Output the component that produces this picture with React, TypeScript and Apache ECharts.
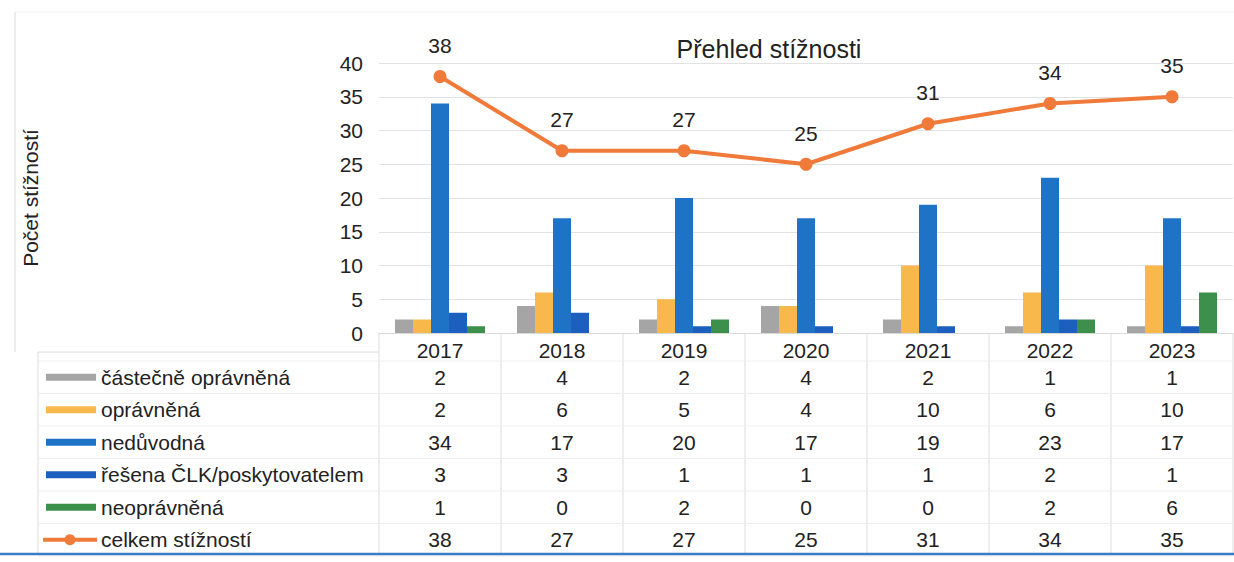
import React, { useEffect, useRef } from "react";
import * as echarts from "echarts";

const years = ["2017", "2018", "2019", "2020", "2021", "2022", "2023"];
const castecneOpravnena = [2, 4, 2, 4, 2, 1, 1];
const opravnena = [2, 6, 5, 4, 10, 6, 10];
const neduvodna = [34, 17, 20, 17, 19, 23, 17];
const resenaCLK = [3, 3, 1, 1, 1, 2, 1];
const neopravnena = [1, 0, 2, 0, 0, 2, 6];
const celkem = [38, 27, 27, 25, 31, 34, 35];

const barNames = [
  "částečně oprávněná",
  "oprávněná",
  "nedůvodná",
  "řešena ČLK/poskytovatelem",
  "neoprávněná",
];
const lineName = "celkem stížností";
const barData = [castecneOpravnena, opravnena, neduvodna, resenaCLK, neopravnena];
const barColors = ["#a5a5a5", "#f9b84b", "#1f73c6", "#1c5fbf", "#3d8f4c"];
const lineColor = "#f07a3a";

const FONT = "Liberation Sans, Arial, sans-serif";

export default function App() {
  const ref = useRef<HTMLDivElement>(null);
  useEffect(() => {
    document.body.style.margin = "0";
    const chart = echarts.init(ref.current!, null, { renderer: "svg" });
    const option: any = {
      animation: false,
      backgroundColor: "#ffffff",
      textStyle: { fontFamily: FONT },
      title: {
        text: "Přehled stížnosti",
        left: 764,
        top: 31,
        textAlign: "center",
        textStyle: { fontSize: 25, fontWeight: "normal", color: "#222", fontFamily: FONT },
      },
      grid: { left: 379, right: 1, top: 63, bottom: 229, containLabel: false },
      xAxis: {
        type: "category",
        data: years,
        axisLine: { show: true, lineStyle: { color: "#d9d9d9" } },
        axisTick: { show: false },
        axisLabel: { fontSize: 21, color: "#222", margin: 7, fontFamily: FONT },
      },
      yAxis: {
        type: "value",
        min: 0,
        max: 40,
        interval: 5,
        name: "Počet stížností",
        nameLocation: "middle",
        nameGap: 338,
        nameTextStyle: { fontSize: 21, color: "#222", fontFamily: FONT },
        axisLine: { show: false },
        axisTick: { show: false },
        axisLabel: { fontSize: 21, color: "#222", margin: 16, fontFamily: FONT },
        splitLine: { lineStyle: { color: "#e2e2e2", width: 1 } },
      },
      series: [
        ...barNames.map((name, i) => ({
          name,
          type: "bar",
          data: barData[i],
          barWidth: 18,
          barGap: "0%",
          itemStyle: { color: barColors[i] },
        })),
        {
          name: lineName,
          type: "line",
          data: celkem,
          z: 5,
          symbol: "circle",
          symbolSize: 13,
          lineStyle: { color: lineColor, width: 4 },
          itemStyle: { color: lineColor },
          label: {
            show: true,
            position: "top",
            distance: 14,
            fontSize: 21,
            color: "#222",
            fontFamily: FONT,
          },
        },
      ],
    };
    chart.setOption(option);

    const xs = years.map((y) => chart.convertToPixel({ xAxisIndex: 0 }, y) as number);
    const colW = xs.length > 1 ? xs[1] - xs[0] : 122;
    const tableLeft = xs[0] - colW / 2;
    const tableRight = xs[xs.length - 1] + colW / 2;
    const axisY = chart.convertToPixel({ yAxisIndex: 0 }, 0) as number;
    const rowTop = 361;
    const rowH = 32.5;
    const rowsBottom = 554;

    const els: any[] = [];
    els.push({ type: "line", shape: { x1: 15, y1: 12, x2: 15, y2: 352 }, style: { stroke: "#e6e6e6", lineWidth: 1.5 } });
    els.push({ type: "line", shape: { x1: 15, y1: 12, x2: 1234, y2: 12 }, style: { stroke: "#f0f0f0", lineWidth: 1 } });
    els.push({ type: "line", shape: { x1: 38, y1: 352, x2: tableLeft, y2: 352 }, style: { stroke: "#dcdcdc", lineWidth: 1 } });
    els.push({ type: "line", shape: { x1: 38, y1: 352, x2: 38, y2: rowsBottom }, style: { stroke: "#dcdcdc", lineWidth: 1 } });
    for (let k = 0; k <= years.length; k++) {
      const x = tableLeft + k * colW;
      els.push({ type: "line", shape: { x1: x, y1: axisY, x2: x, y2: rowsBottom }, style: { stroke: "#dcdcdc", lineWidth: 1 } });
    }
    const allNames = [...barNames, lineName];
    const allData = [...barData, celkem];
    for (let r = 0; r <= allNames.length; r++) {
      const y = rowTop + r * rowH;
      els.push({ type: "line", shape: { x1: 38, y1: y, x2: tableRight, y2: y }, style: { stroke: "#eeeeee", lineWidth: 1 } });
    }
    allNames.forEach((name, r) => {
      const cy = rowTop + r * rowH + rowH / 2;
      if (r < barNames.length) {
        els.push({ type: "rect", shape: { x: 46, y: cy - 3.5, width: 50, height: 7 }, style: { fill: barColors[r] } });
      } else {
        els.push({ type: "line", shape: { x1: 43, y1: cy, x2: 97, y2: cy }, style: { stroke: lineColor, lineWidth: 4 } });
        els.push({ type: "circle", shape: { cx: 70, cy, r: 5.5 }, style: { fill: lineColor } });
      }
      els.push({
        type: "text",
        style: { text: name, x: 101, y: cy, textAlign: "left", textVerticalAlign: "middle", fontSize: 21, fontFamily: FONT, fill: "#222" },
      });
      allData[r].forEach((v, i) => {
        els.push({
          type: "text",
          style: { text: String(v), x: xs[i], y: cy, textAlign: "center", textVerticalAlign: "middle", fontSize: 21, fontFamily: FONT, fill: "#222" },
        });
      });
    });
    els.push({ type: "line", shape: { x1: 0, y1: 554, x2: 1234, y2: 554 }, style: { stroke: "#3a7dc6", lineWidth: 2.5 } });

    chart.setOption({ graphic: { elements: els } });
    return () => chart.dispose();
  }, []);
  return <div ref={ref} style={{ width: 1234, height: 562 }} />;
}
